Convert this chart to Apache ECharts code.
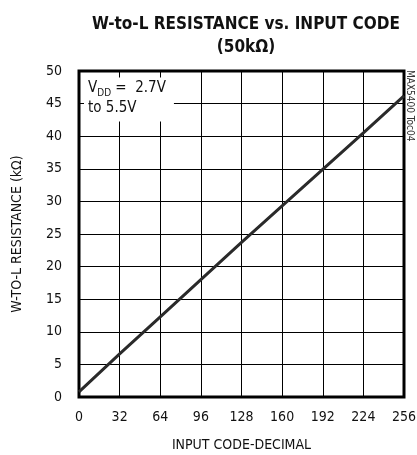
<!DOCTYPE html>
<html><head><meta charset="utf-8">
<script src="https://cdn.jsdelivr.net/npm/echarts@6/dist/echarts.min.js"></script>
<style>html,body{margin:0;padding:0;background:#fff}#c{width:417px;height:455px}</style>
</head><body><div id="c"></div>
<script>
var inputCodes = [0, 32, 64, 96, 128, 160, 192, 224, 256];
var resistanceK = [0.8, 6.6, 12.3, 18.0, 23.7, 29.3, 34.9, 40.5, 46.2];
var titleLines = ['W-to-L RESISTANCE vs. INPUT CODE', '(50k\u03A9)'];
var xName = 'INPUT CODE-DECIMAL';
var yName = 'W-TO-L RESISTANCE (k\u03A9)';
var noteText = '{v|V}{s|DD}{v| =  2.7V}\n{v|to 5.5V}';
var tocLabel = 'MAX5400 Toc04';

var F = '"Liberation Sans Narrow","DejaVu Sans Condensed",sans-serif';
var chart = echarts.init(document.getElementById('c'));
chart.setOption({
  animation: false,
  backgroundColor: '#fff',
  title: [{
    text: titleLines.join('\n'),
    left: 241, top: 8, textAlign: 'center',
    textStyle: {fontFamily: F, fontWeight: 'bold', fontSize: 17, lineHeight: 23, color: '#111'}
  }, {
    text: noteText,
    left: 84, top: 75,
    backgroundColor: '#fff',
    padding: [3, 8, 6, 4],
    textStyle: {
      rich: {
        v: {fontFamily: F, fontSize: 15, fontWeight: 'normal', color: '#111', lineHeight: 20},
        s: {fontFamily: F, fontSize: 10, fontWeight: 'normal', color: '#111', verticalAlign: 'bottom', padding: [6, 0, 0, 0], lineHeight: 20}
      }
    }
  }],
  graphic: [{
    type: 'text', x: 410, y: 70, rotation: -Math.PI / 2,
    style: {text: tocLabel, fontFamily: F, fontSize: 10, fill: '#333', textAlign: 'left', textVerticalAlign: 'middle'}
  }],
  grid: {left: 79, right: 13, top: 71, bottom: 58, show: true, borderColor: '#000', borderWidth: 3, backgroundColor: 'transparent', outerBoundsMode: 'none', containLabel: false},
  xAxis: {
    type: 'value', min: 0, max: 256, interval: 32,
    name: xName, nameLocation: 'middle', nameGap: 41,
    nameTextStyle: {fontFamily: F, fontSize: 14, color: '#111'},
    axisLine: {show: false}, axisTick: {show: false},
    axisLabel: {fontFamily: F, fontSize: 14, color: '#111', margin: 13},
    splitLine: {show: true, lineStyle: {color: '#000', width: 1}}
  },
  yAxis: {
    type: 'value', min: 0, max: 50, interval: 5,
    name: yName, nameLocation: 'middle', nameGap: 55, nameRotate: 90,
    nameTextStyle: {fontFamily: F, fontSize: 14, color: '#111'},
    axisLine: {show: false}, axisTick: {show: false},
    axisLabel: {fontFamily: F, fontSize: 14, color: '#111', margin: 17},
    splitLine: {show: true, lineStyle: {color: '#000', width: 1}}
  },
  series: [{
    type: 'line', showSymbol: false, symbol: 'none',
    data: inputCodes.map(function (c, i) { return [c, resistanceK[i]]; }),
    lineStyle: {color: '#2a2a2a', width: 3}
  }]
});
</script></body></html>
